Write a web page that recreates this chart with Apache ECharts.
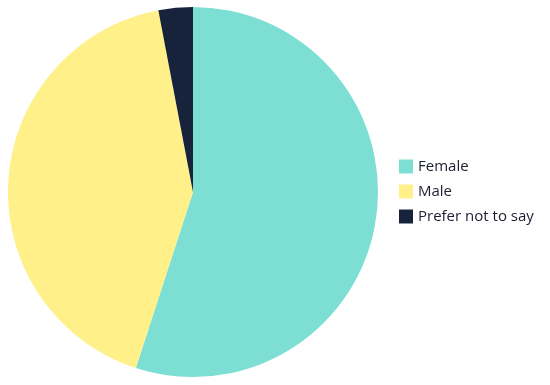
<!DOCTYPE html>
<html><head><meta charset="utf-8">
<script src="https://cdn.jsdelivr.net/npm/echarts@6/dist/echarts.min.js"></script>
<style>html,body{margin:0;padding:0;background:#fff}#c{width:550px;height:385px}</style>
</head><body><div id="c"></div>
<script>
const categories = ["Female", "Male", "Prefer not to say"];
const values = [55, 42, 3];
const colors = ["#7ddfd3", "#fff08a", "#16233a"];
const chart = echarts.init(document.getElementById('c'));
chart.setOption({
  animation: false,
  color: colors,
  legend: {
    orient: 'vertical', left: 394, top: 154,
    icon: 'rect', itemWidth: 14, itemHeight: 14, itemGap: 10,
    textStyle: { fontSize: 15, color: '#1b1f2e', fontFamily: 'Open Sans' },
    data: categories
  },
  series: [{
    type: 'pie', center: [193, 192], radius: 185, startAngle: 90, clockwise: true,
    label: { show: false }, labelLine: { show: false },
    itemStyle: { borderWidth: 0 },
    emphasis: { disabled: true },
    data: categories.map((n, i) => ({ name: n, value: values[i] }))
  }]
});
</script></body></html>
